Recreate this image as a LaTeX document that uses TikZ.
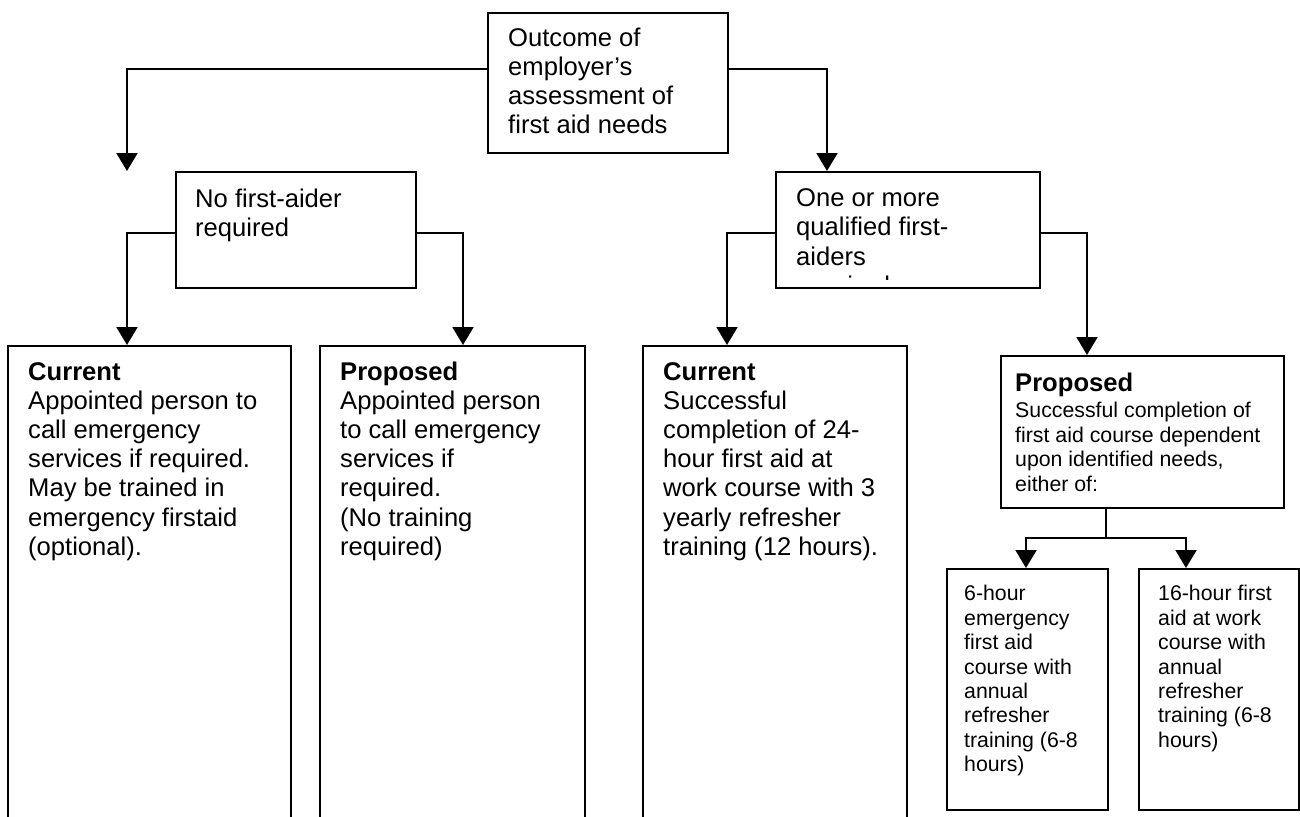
\documentclass[tikz,border=0pt]{standalone}
\usepackage{fontspec}
\setmainfont{Liberation Sans}
\usetikzlibrary{arrows.meta}
\newcommand{\firststrut}{\rule{0pt}{0.8em}}
\tikzset{
  box/.style={draw, line width=2pt, inner sep=0pt, anchor=north west},
  big/.style={font=\fontsize{25.6}{29.2}\selectfont, align=left, anchor=north west, inner sep=0pt},
  small/.style={font=\fontsize{21.3}{24.4}\selectfont, align=left, anchor=north west, inner sep=0pt},
  link/.style={line width=2pt},
  arr/.style={line width=2pt, -{Triangle[length=18pt,width=21pt]}}
}
\begin{document}
\begin{tikzpicture}[x=1pt,y=-1pt]
\useasboundingbox[fill=white] (0,0) rectangle (1300,816);
% boxes and texts
\node[box, minimum width=240pt, minimum height=140pt] (top) at (487,12) {};
\node[big] (toptxt) at (508,25.5) {\firststrut Outcome of\\employer’s\\assessment of\\first aid needs};

\node[box, minimum width=240pt, minimum height=116pt] (no) at (175,171) {};
\node[big] (notxt) at (195,186.5) {\firststrut No first-aider\\required};

\node[box, minimum width=264pt, minimum height=116pt] (one) at (775,171) {};
\node[big] (onetxt) at (796,186) {\firststrut One or more\\qualified first-\\aiders};
\begin{scope}
\clip (777,173) rectangle (1037,279);
\node[big] (oneclip) at (796,273.6) {\firststrut required};
\end{scope}

\node[box, minimum width=283pt, minimum height=500pt] (cur1) at (7,345) {};
\node[big] (cur1txt) at (28,359.5) {\firststrut\textbf{Current}\\Appointed person to\\call emergency\\services if required.\\May be trained in\\emergency firstaid\\(optional).};

\node[box, minimum width=265pt, minimum height=500pt] (prop1) at (319,345) {};
\node[big] (prop1txt) at (340,359.5) {\firststrut\textbf{Proposed}\\Appointed person\\to call emergency\\services if\\required.\\(No training\\required)};

\node[box, minimum width=264pt, minimum height=500pt] (cur2) at (642,345) {};
\node[big] (cur2txt) at (663,359.5) {\firststrut\textbf{Current}\\Successful\\completion of 24-\\hour first aid at\\work course with 3\\yearly refresher\\training (12 hours).};

\node[box, minimum width=283pt, minimum height=152pt] (prop2) at (1000,355) {};
\node[big] (prop2head) at (1015,370.5) {\firststrut\textbf{Proposed}};
\node[small] (prop2txt) at (1015,400.6) {\firststrut Successful completion of\\first aid course dependent\\upon identified needs,\\either of:};

\node[box, minimum width=161pt, minimum height=241pt] (six) at (946,568) {};
\node[small] (sixtxt) at (964,583.6) {\firststrut 6-hour\\emergency\\first aid\\course with\\annual\\refresher\\training (6-8\\hours)};

\node[box, minimum width=160pt, minimum height=241pt] (sixteen) at (1138,568) {};
\node[small] (sixteentxt) at (1158,583.6) {\firststrut 16-hour first\\aid at work\\course with\\annual\\refresher\\training (6-8\\hours)};

% connector end points
\coordinate (c1) at (127,171);
\coordinate (c2) at (827,171);
\coordinate (c3) at (127,345);
\coordinate (c4) at (463,345);
\coordinate (c5) at (727,345);
\coordinate (c6) at (1087,355);
\coordinate (j) at (1106,538);
\coordinate (c7) at (1026,568);
\coordinate (c8) at (1186,568);

\draw[arr] ([yshift=-57pt]top.north west) -| (c1);
\draw[arr] ([yshift=-57pt]top.north east) -| (c2);
\draw[arr] ([yshift=-62pt]no.north west) -| (c3);
\draw[arr] ([yshift=-62pt]no.north east) -| (c4);
\draw[arr] ([yshift=-62pt]one.north west) -| (c5);
\draw[arr] ([yshift=-62pt]one.north east) -| (c6);
\draw[link] (j |- prop2.south) -- (j);
\draw[arr] (j) -| (c7);
\draw[arr] (j) -| (c8);
\end{tikzpicture}
\end{document}
